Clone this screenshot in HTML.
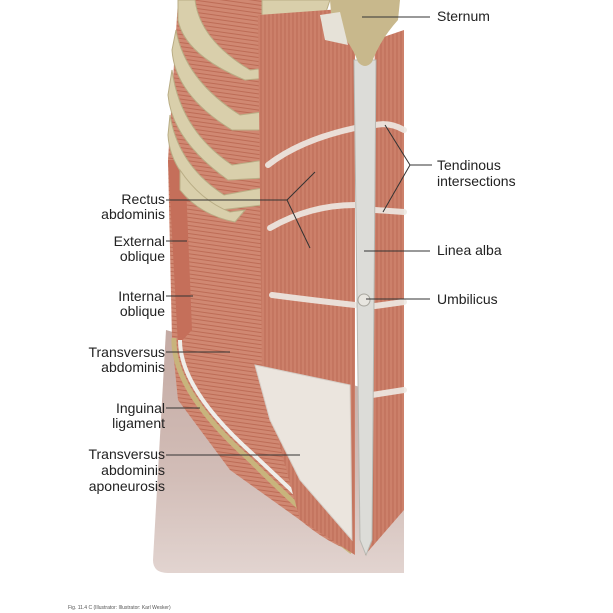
<!DOCTYPE html>
<html><head><meta charset="utf-8"><style>
body{margin:0;background:#fff}
svg{display:block}
text{font-family:"Liberation Sans",sans-serif;font-size:14px;fill:#222}
</style></head><body>
<svg width="613" height="613" viewBox="0 0 613 613">
<defs>
<pattern id="fib" width="4" height="6" patternUnits="userSpaceOnUse"><rect width="4" height="6" fill="#cc806a"/><line x1="1" y1="0" x2="1" y2="6" stroke="#b8654f" stroke-width="0.8"/></pattern>
<pattern id="hfib" width="6" height="4" patternUnits="userSpaceOnUse" patternTransform="rotate(8)"><rect width="6" height="4" fill="#d08872"/><line x1="0" y1="1" x2="6" y2="1" stroke="#b8654f" stroke-width="0.8"/></pattern>
<linearGradient id="skin" x1="0" y1="0" x2="0" y2="1"><stop offset="0" stop-color="#c4aaa3"/><stop offset="0.6" stop-color="#d2bdb7"/><stop offset="1" stop-color="#e2d4d0"/></linearGradient>
</defs>
<!-- lower skin/thigh -->
<path d="M166 330 L153 560 Q153 573 168 573 L404 573 L404 400 Z" fill="url(#skin)"/>
<!-- left oblique muscles -->
<path d="M178 0 L262 0 L262 380 L330 470 L355 552 Q330 545 300 520 L230 470 L178 400 L172 340 L168 160 Z" fill="url(#hfib)"/>
<path d="M168 160 L185 160 L192 330 L178 345 Z" fill="#c56f5a"/>
<!-- inguinal ligament -->
<path d="M174 338 Q172 390 250 460 Q310 520 352 552" fill="none" stroke="#c8b47c" stroke-width="5"/>
<path d="M180 340 Q180 390 255 456 Q312 510 352 546" fill="none" stroke="#efeeea" stroke-width="4"/>
<!-- ribs -->
<g fill="#d9cfab" stroke="#b9ad85" stroke-width="1">
<path d="M178 0 L195 0 Q200 40 250 70 L268 68 L268 78 L245 80 Q185 55 178 20 Z"/>
<path d="M176 30 Q185 80 240 115 L262 112 L262 130 L232 130 Q175 95 172 50 Z"/>
<path d="M172 70 Q180 130 232 165 L265 160 L265 178 L228 180 Q172 140 168 95 Z"/>
<path d="M170 115 Q178 165 224 195 L262 188 L262 205 L220 210 Q170 175 168 135 Z"/>
<path d="M180 170 Q200 200 230 212 L245 210 L235 222 Q200 215 180 190 Z"/>
<path d="M262 0 L330 0 L325 15 L262 18 Z"/>
</g>
<!-- left rectus -->
<path d="M258 15 L355 8 L355 555 L300 520 L262 380 Z" fill="url(#fib)"/>
<!-- right rectus -->
<path d="M375 40 L404 30 L404 510 L365 555 Z" fill="url(#fib)"/>
<!-- aponeurosis -->
<path d="M255 365 L350 385 L352 540 L300 480 L270 420 Z" fill="#ebe5de" stroke="#d6cfc8"/>
<!-- tendinous intersections -->
<g stroke="#eeeae4" stroke-width="6" fill="none" stroke-linecap="round" opacity="0.9">
<path d="M268 165 Q300 140 355 128"/><path d="M375 125 Q390 122 404 130"/>
<path d="M270 228 Q310 205 355 205"/><path d="M375 210 L404 212"/>
<path d="M272 295 Q310 300 355 305"/><path d="M375 306 L404 302"/>
<path d="M372 395 L404 390"/>
</g>
<!-- linea alba -->
<path d="M354 60 L376 60 L372 540 L366 555 L360 540 Z" fill="#dcdcd8" stroke="#b8b8b2"/>
<circle cx="364" cy="300" r="6" fill="#e8e6e0" stroke="#a8a69e"/>
<!-- sternum -->
<path d="M330 0 L400 0 L398 20 Q380 40 372 62 Q365 70 358 62 Q350 40 332 25 Z" fill="#c8b88c"/>
<path d="M320 15 L340 12 L348 45 L325 40 Z" fill="#e6e2d8"/>
<!-- leader lines -->
<g stroke="#333" stroke-width="1" fill="none">
<line x1="362" y1="17" x2="430" y2="17"/>
<polyline points="385,125 410,165 383,212"/><line x1="410" y1="165" x2="432" y2="165"/>
<line x1="364" y1="251" x2="430" y2="251"/>
<line x1="366" y1="299" x2="430" y2="299"/>
<line x1="166" y1="200" x2="287" y2="200"/><polyline points="315,172 287,200 310,248"/>
<line x1="166" y1="241" x2="187" y2="241"/>
<line x1="166" y1="296" x2="193" y2="296"/>
<line x1="166" y1="352" x2="230" y2="352"/>
<line x1="166" y1="408" x2="200" y2="408"/>
<line x1="166" y1="455" x2="300" y2="455"/>
</g>
<g>
<text x="437" y="21">Sternum</text>
<text x="437" y="170">Tendinous</text><text x="437" y="186">intersections</text>
<text x="437" y="255">Linea alba</text>
<text x="437" y="304">Umbilicus</text>
</g>
<g text-anchor="end">
<text x="165" y="204">Rectus</text><text x="165" y="219">abdominis</text>
<text x="165" y="246">External</text><text x="165" y="261">oblique</text>
<text x="165" y="301">Internal</text><text x="165" y="316">oblique</text>
<text x="165" y="357">Transversus</text><text x="165" y="372">abdominis</text>
<text x="165" y="413">Inguinal</text><text x="165" y="428">ligament</text>
<text x="165" y="459">Transversus</text><text x="165" y="475">abdominis</text><text x="165" y="491">aponeurosis</text>
</g>
<text x="68" y="609" style="font-size:5px;fill:#555">Fig. 11.4 C   (Illustrator: Illustrator: Karl Wesker)</text>
</svg>
</body></html>
